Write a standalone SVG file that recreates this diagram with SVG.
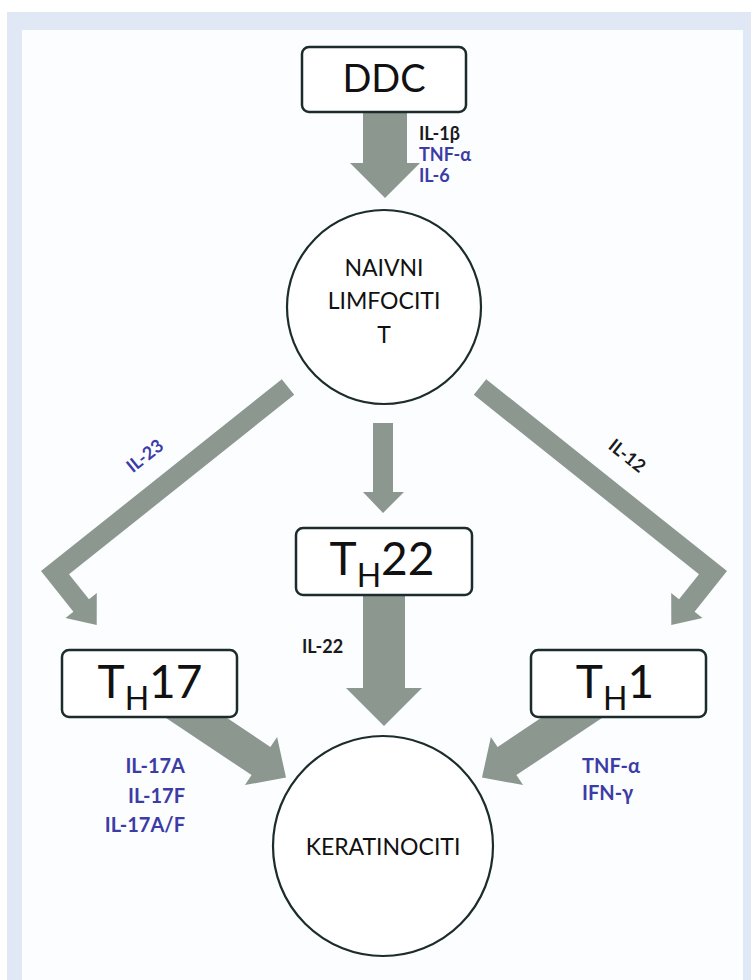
<svg xmlns="http://www.w3.org/2000/svg" width="751" height="980" viewBox="0 0 751 980">
<style>
.box{fill:#fff;stroke:#1c2b2b;stroke-width:2.5}
.circ{fill:#fff;stroke:#1c2b2b;stroke-width:2.2}
.arrow{fill:#8c9790}
text{font-family:Lato,'Open Sans','Liberation Sans',sans-serif}
.big{font-size:46px;fill:#111;text-anchor:middle}
.sub{font-size:32px}
.node{font-size:23px;fill:#111;text-anchor:middle}
.lab{font-weight:bold;font-size:18px}
.lab2{font-weight:bold;font-size:20px}
.blue{fill:#3c3ca6}
.blk{fill:#1a1a1a}
</style>
<rect width="751" height="980" fill="#fff"/>
<rect x="7" y="12" width="744" height="968" fill="#e1e8f5"/>
<rect x="22" y="30" width="721" height="950" fill="#fcfdfe"/>

<g id="connectors">
  <polygon class="arrow" points="363,110 407,110 407,163 420,163 385,198 350,163 363,163"/>
  <polygon class="arrow" points="373,423 393,423 393,492 404,492 383,513 363,492 373,492"/>
  <polygon class="arrow" points="363,590 405,590 405,688 422,688 384,726 346,688 363,688"/>
  <polygon class="arrow" points="281.8,379.2 41,571.1 73.4,611.8 65.5,618 96.7,625.1 96.8,593.1 89,599.3 69,574.3 294.2,394.8"/>
  <polygon class="arrow" points="486.2,379.2 727,571.1 694.6,611.8 702.5,618 671.3,625.1 671.2,593.1 679,599.3 699,574.3 473.8,394.8"/>
  <polygon class="arrow" points="170.6,680.3 270.4,746.9 277.1,736.9 286,777.6 244.9,785.1 251.6,775.1 151.8,708.5"/>
  <polygon class="arrow" points="597.4,680.3 497.6,746.9 490.9,736.9 482,777.6 523.1,785.1 516.4,775.1 616.2,708.5"/>
  <text class="lab blk" x="419" y="140">IL-1β</text>
  <text class="lab blue" x="419" y="161">TNF-α</text>
  <text class="lab blue" x="419" y="182">IL-6</text>
  <text class="lab blue" text-anchor="middle" transform="translate(145,456) rotate(-38.6)" y="6">IL-23</text>
  <text class="lab blk" text-anchor="middle" transform="translate(627,456) rotate(38.6)" y="6">IL-12</text>
  <text class="lab blk" x="302" y="653">IL-22</text>
  <text class="lab2 blue" x="185" y="773" text-anchor="end">IL-17A</text>
  <text class="lab2 blue" x="185" y="803" text-anchor="end">IL-17F</text>
  <text class="lab2 blue" x="185" y="832" text-anchor="end">IL-17A/F</text>
  <text class="lab2 blue" x="582" y="773">TNF-α</text>
  <text class="lab2 blue" x="582" y="800">IFN-γ</text>
</g>

<g id="ddc">
  <rect class="box" x="302" y="47" width="164" height="65" rx="7"/>
  <text class="big" x="384" y="92" style="font-size:38px">DDC</text>
</g>
<g id="naivni">
  <circle class="circ" cx="384" cy="307" r="97"/>
  <text class="node" x="384" y="276">NAIVNI</text>
  <text class="node" x="384" y="309">LIMFOCITI</text>
  <text class="node" x="384" y="343">T</text>
</g>
<g id="th22">
  <rect class="box" x="296" y="528" width="176" height="67" rx="7"/>
  <text class="big" x="382" y="575">T<tspan class="sub" dy="12">H</tspan><tspan dy="-12">22</tspan></text>
</g>
<g id="th17">
  <rect class="box" x="62" y="650" width="175" height="67" rx="7"/>
  <text class="big" x="150" y="698">T<tspan class="sub" dy="12">H</tspan><tspan dy="-12">17</tspan></text>
</g>
<g id="th1">
  <rect class="box" x="531" y="650" width="175" height="67" rx="7"/>
  <text class="big" x="615" y="698">T<tspan class="sub" dy="12">H</tspan><tspan dy="-12">1</tspan></text>
</g>
<g id="keratinociti">
  <circle class="circ" cx="383" cy="846" r="110"/>
  <text class="node" x="383" y="855">KERATINOCITI</text>
</g>
</svg>
